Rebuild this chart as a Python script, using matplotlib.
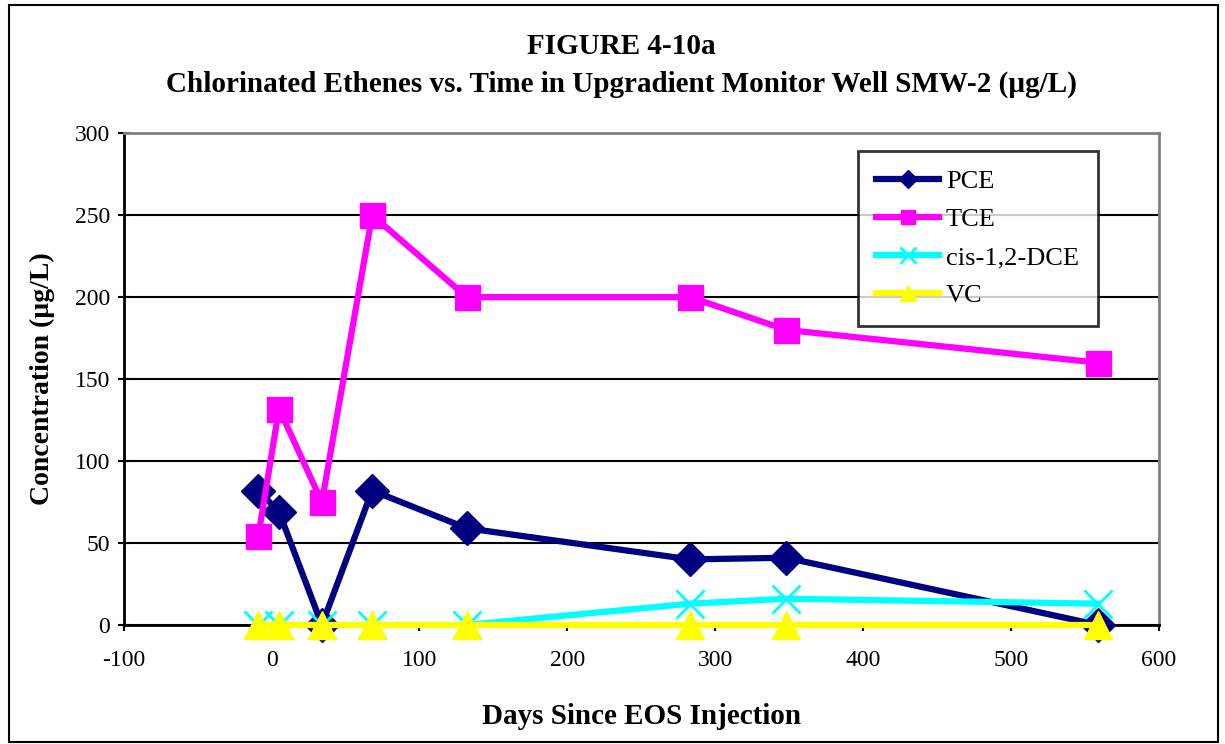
import matplotlib.pyplot as plt
from matplotlib.patches import Rectangle

plt.rcParams['font.family'] = ['Liberation Serif', 'DejaVu Serif']
plt.rcParams['axes.unicode_minus'] = False

# days since EOS injection
days = [-9, 5, 34, 68, 132, 283, 348, 559]
pce = [82, 69, 0, 82, 59, 40, 41, 0]
tce = [54, 132, 75, 250, 200, 200, 180, 160]
dce = [0, 0, 0, 0, 0, 13, 16, 13]
vc = [0, 0, 0, 0, 0, 0, 0, 0]

x_ticks = [-100, 0, 100, 200, 300, 400, 500, 600]
y_ticks = [0, 50, 100, 150, 200, 250, 300]

fig = plt.figure(figsize=(12.25, 7.44), dpi=100)
ax = fig.add_axes([0.101, 0.16, 0.845, 0.661])

lw = 4.5
ax.plot(days, pce, color='#000080', lw=lw, marker='D', ms=17,
        label='PCE', zorder=3, clip_on=False)
ax.plot(days, tce, color='#FF00FF', lw=lw, marker='s', ms=18,
        mec='#FF00FF', label='TCE', zorder=3, clip_on=False)
ax.plot(days, dce, color='#00FFFF', lw=lw, marker='x', ms=20, mew=2,
        label='cis-1,2-DCE', zorder=4, clip_on=False)
ax.plot(days, vc, color='#FFFF00', lw=lw, marker='^', ms=20,
        label='VC', zorder=5, clip_on=False)

ax.set_xlim(-100, 600)
ax.set_ylim(0, 300)
ax.set_xticks(x_ticks)
ax.set_yticks(y_ticks)
ax.tick_params(axis='both', labelsize=17, length=4, width=1.5, colors='black')
ax.tick_params(axis='y', direction='inout', length=8, pad=6)
ax.tick_params(axis='x', pad=14)
ax.yaxis.grid(True, color='black', lw=1.5)
ax.set_axisbelow(True)

for side in ['top', 'right']:
    ax.spines[side].set_color('gray')
    ax.spines[side].set_linewidth(2)
for side in ['left', 'bottom']:
    ax.spines[side].set_linewidth(2)

ax.set_xlabel('Days Since EOS Injection', fontsize=21, fontweight='bold',
              labelpad=23)
ax.set_ylabel('Concentration (µg/L)', fontsize=20, fontweight='bold',
              labelpad=14)

fig.text(0.507, 0.937, 'FIGURE 4-10a', ha='center', va='center',
         fontsize=21, fontweight='bold')
fig.text(0.507, 0.887, 'Chlorinated Ethenes vs. Time in Upgradient Monitor Well SMW-2 (µg/L)',
         ha='center', va='center', fontsize=21, fontweight='bold')

leg = ax.legend(loc='upper left', bbox_to_anchor=(0.709, 0.963),
                fontsize=19, frameon=True, fancybox=False,
                edgecolor='black', handlelength=2.4, handletextpad=0.25,
                borderpad=0.7, borderaxespad=0, labelspacing=0.55,
                markerscale=0.55)
leg.get_frame().set_linewidth(2)

fig.patches.append(Rectangle((0.007, 0.003), 0.987, 0.99, transform=fig.transFigure,
                             fill=False, edgecolor='black', lw=1.5))

fig.savefig('out.png', dpi=100)
